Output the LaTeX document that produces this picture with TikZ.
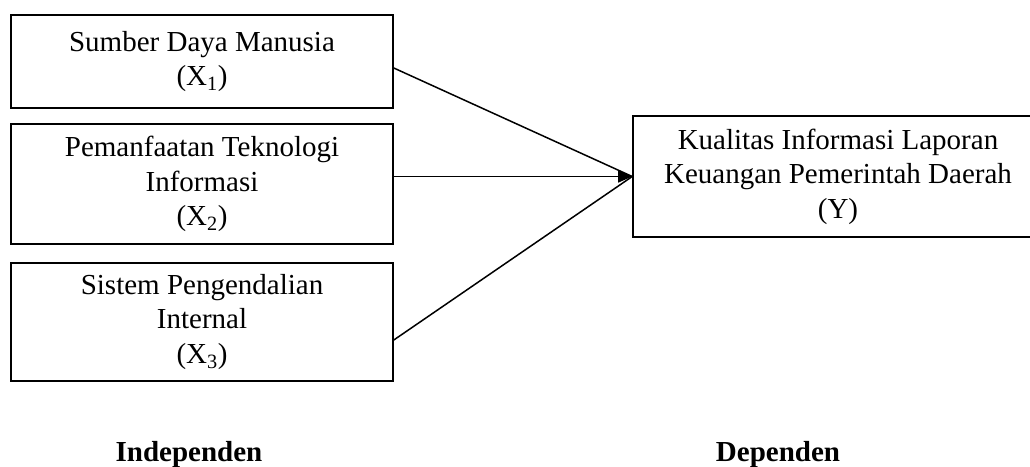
\documentclass[tikz,border=0pt]{standalone}
\usepackage{fontspec}
\setmainfont{Liberation Serif}
\usetikzlibrary{arrows.meta,calc}
\begin{document}
\begin{tikzpicture}[x=1pt,y=-1pt,
  boxtext/.style={font=\fontsize{29}{34.5}\selectfont, align=center},
  varbox/.style={draw, line width=1.6pt, inner sep=0pt},
  conn/.style={line width=1.5pt},
  grouplabel/.style={font=\fontsize{29}{34.5}\selectfont\bfseries, anchor=base, inner sep=0pt}]
\useasboundingbox (0,0) rectangle (1030,466);
% boxes
\node[varbox, minimum width=382pt, minimum height=93pt] (A) at (202,61.5) {};
\node[varbox, minimum width=382pt, minimum height=120pt] (B) at (202,184) {};
\node[varbox, minimum width=382pt, minimum height=118pt] (C) at (202,322) {};
\node[varbox, minimum width=410pt, minimum height=121pt] (Y) at (838,176.5) {};
% texts
\node[boxtext] (tA) at (A.center) {Sumber Daya Manusia\\(X\textsubscript{1})};
\node[boxtext] (tB) at (B.center) {Pemanfaatan Teknologi\\Informasi\\(X\textsubscript{2})};
\node[boxtext] (tC) at (C.center) {Sistem Pengendalian\\Internal\\(X\textsubscript{3})};
\node[boxtext] (tY) at (Y.center) {Kualitas Informasi Laporan\\Keuangan Pemerintah Daerah\\(Y)};
% connectors
\draw[conn] ([yshift=-6.5pt]A.east) -- (Y.west);
\draw[conn] ([yshift=-18pt]C.east) -- (Y.west);
\draw[conn, -{Triangle[length=14pt,width=12pt]}] (B.east |- Y.west) -- (Y.west);
% group labels
\node[grouplabel] (ind) at (189,461) {Independen};
\node[grouplabel] (dep) at (778,461) {Dependen};
\end{tikzpicture}
\end{document}
